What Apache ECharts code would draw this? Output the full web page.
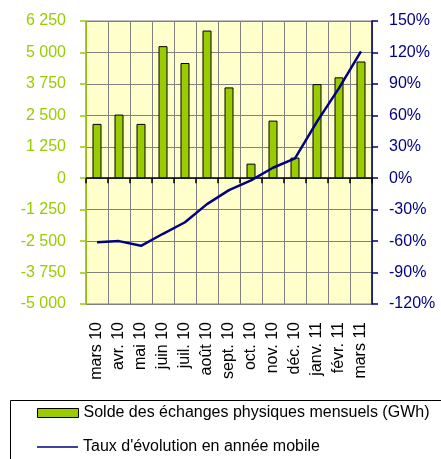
<!DOCTYPE html>
<html><head><meta charset="utf-8">
<script src="https://cdn.jsdelivr.net/npm/echarts@6/dist/echarts.min.js"></script>
<style>html,body{margin:0;padding:0;background:#fff}#c{width:441px;height:459px}</style>
</head><body><div id="c"></div>
<script>
const categories = ['mars 10','avr. 10','mai 10','juin 10','juil. 10','août 10','sept. 10','oct. 10','nov. 10','déc. 10','janv. 11','févr. 11','mars 11'];
const solde = [2160, 2530, 2160, 5250, 4580, 5870, 3610, 580, 2290, 820, 3740, 4010, 4640];
const taux = [-61, -60, -64.5, -53, -42, -24.7, -11.4, -2, 10, 19, 54, 86, 121];
const leftTicks = {min: -5000, max: 6250, interval: 1250};
const rightTicks = {min: -120, max: 150, interval: 30};
const seriesNames = ['Solde des échanges physiques mensuels (GWh)', "Taux d'évolution en année mobile"];

const green = '#99cc00', navy = '#000080', font = 'Liberation Sans, Arial, sans-serif';
const legendText = {fontFamily: font, fontSize: 16, color: '#000'};
const chart = echarts.init(document.getElementById('c'), null, {renderer: 'canvas'});
chart.setOption({
  animation: false,
  textStyle: {fontFamily: font},
  grid: {left: 86, right: 69, top: 21, bottom: 155, show: true, backgroundColor: '#ffffcc', borderColor: '#808080', borderWidth: 1, containLabel: false},
  graphic: [{type: 'rect', shape: {x: 10.5, y: 400.5, width: 440, height: 70}, style: {fill: 'none', stroke: '#000', lineWidth: 1}}],
  legend: [
    {left: 37, top: 405, padding: 0, itemWidth: 41, itemHeight: 9, textStyle: legendText,
     data: [{name: seriesNames[0], icon: 'rect', itemStyle: {color: green, borderColor: '#000', borderWidth: 1}}]},
    {left: 37, top: 439, padding: 0, itemWidth: 41, itemHeight: 9, textStyle: legendText,
     data: [{name: seriesNames[1], icon: 'path://M0,3.8L40,3.8L40,5.2L0,5.2Z', itemStyle: {color: navy, borderWidth: 0}}]}
  ],
  xAxis: [
    {type: 'category', data: categories, boundaryGap: true,
     axisLine: {onZero: true, lineStyle: {color: '#000', width: 1.5}},
     axisTick: {show: true, interval: 0, length: 5, lineStyle: {color: '#000', width: 1.5}},
     axisLabel: {show: false},
     splitLine: {show: true, interval: 0, lineStyle: {color: '#808080', width: 1}}},
    {type: 'category', data: categories, position: 'bottom', boundaryGap: true,
     axisLine: {show: false, onZero: false}, axisTick: {show: false},
     axisLabel: {rotate: 90, margin: 18, fontSize: 16, color: '#000', fontFamily: font, interval: 0},
     splitLine: {show: false}}
  ],
  yAxis: [
    {type: 'value', min: leftTicks.min, max: leftTicks.max, interval: leftTicks.interval, position: 'left',
     axisLine: {show: true, lineStyle: {color: green, width: 1.5}},
     axisTick: {show: true, length: 6, lineStyle: {color: green, width: 1.5}},
     axisLabel: {margin: 20, fontSize: 16, color: green, fontFamily: font,
       formatter: v => { const s = Math.abs(v).toString().replace(/\B(?=(\d{3})+(?!\d))/g, ' '); return (v < 0 ? '-' : '') + s; }},
     splitLine: {show: true, lineStyle: {color: '#808080', width: 1}}},
    {type: 'value', min: rightTicks.min, max: rightTicks.max, interval: rightTicks.interval, position: 'right',
     axisLine: {show: true, lineStyle: {color: navy, width: 1.5}},
     axisTick: {show: true, length: 6, lineStyle: {color: navy, width: 1.5}},
     axisLabel: {margin: 17, fontSize: 16, color: navy, fontFamily: font, formatter: v => v + '%'},
     splitLine: {show: false}}
  ],
  series: [
    {name: seriesNames[0], type: 'bar', data: solde, xAxisIndex: 0, yAxisIndex: 0, barWidth: 9,
     itemStyle: {color: green, borderColor: '#000', borderWidth: 1}},
    {name: seriesNames[1], type: 'line', data: taux, xAxisIndex: 0, yAxisIndex: 1, showSymbol: false, symbol: 'none',
     lineStyle: {color: navy, width: 2.5}, itemStyle: {color: navy}, z: 5}
  ]
});
</script></body></html>
